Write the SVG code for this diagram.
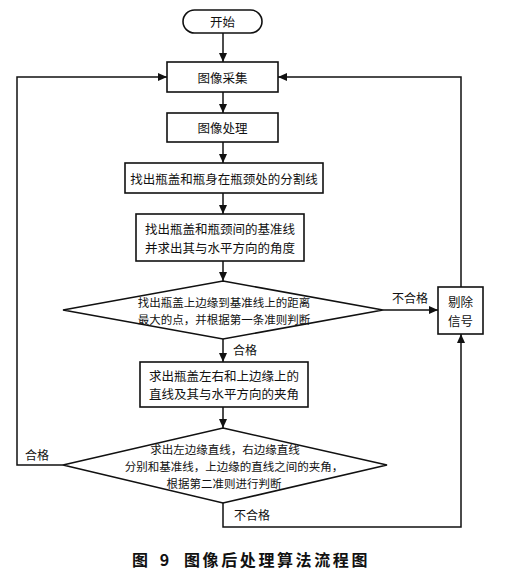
<svg xmlns="http://www.w3.org/2000/svg" width="505" height="576" viewBox="0 0 505 576">
<defs>
<marker id="arr" markerWidth="10" markerHeight="10" refX="9" refY="5" orient="auto" markerUnits="userSpaceOnUse">
<path d="M0,1 L9,5 L0,9 Z" fill="#111"/>
</marker>
<style>
.s{fill:#fff;stroke:#111;stroke-width:1.6}
.c{fill:none;stroke:#111;stroke-width:1.5}
.t{font-family:"Noto Sans CJK SC","Noto Sans",sans-serif;font-size:12.5px;fill:#111;text-anchor:middle;dominant-baseline:central}
.d{font-family:"Noto Sans CJK SC","Noto Sans",sans-serif;font-size:11.5px;fill:#111;text-anchor:middle;dominant-baseline:central}
.l{font-family:"Noto Sans CJK SC","Noto Sans",sans-serif;font-size:12px;fill:#111;dominant-baseline:central}
.cap{font-family:"Noto Sans CJK SC","Noto Sans",sans-serif;font-size:16px;font-weight:bold;fill:#111;dominant-baseline:central}
</style>
</defs>
<rect width="505" height="576" fill="#fff"/>
<g id="connectors">
<line class="c" x1="223" y1="33" x2="223" y2="62" marker-end="url(#arr)"/>
<line class="c" x1="223" y1="92" x2="223" y2="113" marker-end="url(#arr)"/>
<line class="c" x1="223" y1="142" x2="223" y2="163" marker-end="url(#arr)"/>
<line class="c" x1="223" y1="193" x2="223" y2="214" marker-end="url(#arr)"/>
<line class="c" x1="223" y1="261" x2="223" y2="281" marker-end="url(#arr)"/>
<line class="c" x1="223" y1="339" x2="223" y2="362" marker-end="url(#arr)"/>
<line class="c" x1="223" y1="407" x2="223" y2="428" marker-end="url(#arr)"/>
<line class="c" x1="383" y1="310" x2="438" y2="310" marker-end="url(#arr)"/>
<polyline class="c" points="461,287 461,77 278,77" marker-end="url(#arr)"/>
<polyline class="c" points="63,465 17,465 17,77 167,77" marker-end="url(#arr)"/>
<polyline class="c" points="223,503 223,527 461,527 461,334" marker-end="url(#arr)"/>
<text class="l" x="392" y="297">不合格</text>
<text class="l" x="233" y="349">合格</text>
<text class="l" x="25" y="454">合格</text>
<text class="l" x="234" y="514">不合格</text>
</g>
<g id="start">
<rect class="s" x="183" y="10" width="79" height="23" rx="11.5"/>
<text class="t" x="222.5" y="21.5">开始</text>
</g>
<g id="acquire">
<rect class="s" x="167" y="62" width="111" height="30"/>
<text class="t" x="222.5" y="77">图像采集</text>
</g>
<g id="process">
<rect class="s" x="167" y="113" width="111" height="29"/>
<text class="t" x="222.5" y="127.5">图像处理</text>
</g>
<g id="split">
<rect class="s" x="125" y="163" width="198" height="30"/>
<text class="t" x="224" y="178">找出瓶盖和瓶身在瓶颈处的分割线</text>
</g>
<g id="baseline">
<rect class="s" x="136" y="214" width="168" height="47"/>
<text class="t" x="220" y="228.5">找出瓶盖和瓶颈间的基准线</text>
<text class="t" x="220" y="247">并求出其与水平方向的角度</text>
</g>
<g id="decision1">
<polygon class="s" points="223,281 383,310 223,339 63,310"/>
<text class="d" x="224" y="301.5">找出瓶盖上边缘到基准线上的距离</text>
<text class="d" x="224" y="319">最大的点，并根据第一条准则判断</text>
</g>
<g id="reject">
<rect class="s" x="438" y="287" width="45" height="47"/>
<text class="t" x="460.5" y="301.5">剔除</text>
<text class="t" x="460.5" y="320">信号</text>
</g>
<g id="edges">
<rect class="s" x="140" y="362" width="168" height="45"/>
<text class="t" x="224" y="375">求出瓶盖左右和上边缘上的</text>
<text class="t" x="224" y="393.5">直线及其与水平方向的夹角</text>
</g>
<g id="decision2">
<polygon class="s" points="223,428 387,465 223,503 63,465"/>
<text class="d" x="225" y="449">求出左边缘直线，右边缘直线</text>
<text class="d" x="234" y="466">分别和基准线，上边缘的直线之间的夹角，</text>
<text class="d" x="224" y="483">根据第二准则进行判断</text>
</g>
<text class="cap" y="559" xml:space="preserve"><tspan x="132">图</tspan><tspan x="156"> 9</tspan><tspan x="184" letter-spacing="2.6">图像后处理算法流程图</tspan></text>
</svg>
